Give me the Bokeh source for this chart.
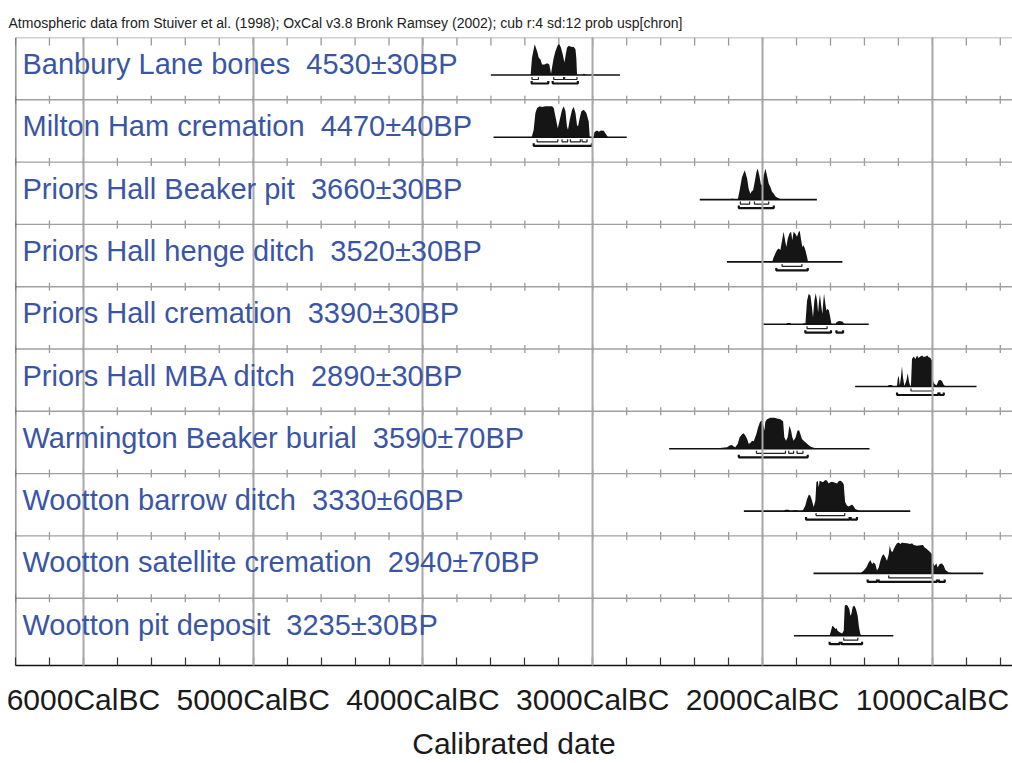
from bokeh.plotting import figure
from bokeh.models import Range1d, FixedTicker, Span, ColumnDataSource
from bokeh.core.properties import value
from bokeh.embed import file_html
from bokeh.resources import INLINE

# ---------------- data ----------------
caption = ("Atmospheric data from Stuiver et al. (1998); OxCal v3.8 Bronk Ramsey (2002); "
           "cub r:4 sd:12 prob usp[chron]")
axis_title = "Calibrated date"
tick_years_bc = [6000, 5000, 4000, 3000, 2000, 1000]
tick_labels = ["6000CalBC", "5000CalBC", "4000CalBC", "3000CalBC", "2000CalBC", "1000CalBC"]

names = ["Banbury Lane bones", "Milton Ham cremation", "Priors Hall Beaker pit",
         "Priors Hall henge ditch", "Priors Hall cremation", "Priors Hall MBA ditch",
         "Warmington Beaker burial", "Wootton barrow ditch", "Wootton satellite cremation",
         "Wootton pit deposit"]
dates = ["4530±30BP", "4470±40BP", "3660±30BP", "3520±30BP", "3390±30BP", "2890±30BP",
         "3590±70BP", "3330±60BP", "2940±70BP", "3235±30BP"]
span_from_bc = [3600, 3585, 2370, 2210, 1995, 1455, 2550, 2110, 1700, 1815]
span_to_bc = [2840, 2800, 1680, 1530, 1375, 740, 1370, 1130, 700, 1230]

banbury_bc = [3372, 3366, 3358, 3342, 3328, 3318, 3308, 3299, 3285, 3269, 3256, 3246, 3240, 3230,
              3220, 3206, 3197, 3187, 3175, 3167, 3159, 3152, 3142, 3128, 3112, 3102, 3097, 3093,
              3088, 3060, 3055, 3045, 3040]
banbury_p = [0, 0.02, 0.56, 0.99, 0.77, 0.56, 0.5, 0.34, 0.34, 0.38, 0.34, 0.04, 0.24, 0.56,
             0.77, 0.97, 0.99, 0.88, 0.61, 0.4, 0.67, 0.88, 0.94, 0.91, 0.9, 0.83, 0.56, 0.04,
             0, 0, 0.04, 0.03, 0]
banbury_r68 = [(3358, 3320), (3230, 3172), (3166, 3093)]
banbury_r95 = [(3360, 3262), (3236, 3088)]

milton_bc = [3360, 3348, 3338, 3328, 3312, 3299, 3279, 3259, 3240, 3230, 3220, 3206, 3195, 3181,
             3171, 3161, 3152, 3146, 3136, 3122, 3112, 3102, 3093, 3087, 3077, 3067, 3053, 3038,
             3024, 3018, 3008, 2995, 2990, 2975, 2965, 2951, 2936, 2920, 2910]
milton_p = [0, 0.24, 0.78, 0.945, 1.0, 0.98, 1.0, 1.0, 1.0, 0.945, 0.67, 0.29, 0.56, 0.89, 1.0,
            0.84, 0.35, 0.24, 0.56, 0.89, 0.98, 0.78, 0.40, 0.35, 0.62, 0.84, 0.89, 0.78, 0.51,
            0.02, 0, 0, 0.17, 0.22, 0.18, 0.22, 0.21, 0.08, 0]
milton_r68 = [(3328, 3206), (3181, 3148), (3132, 3073), (3063, 3034)]
milton_r95 = [(3348, 3005)]

beaker_bc = [2192, 2185, 2172, 2165, 2146, 2135, 2121, 2105, 2091, 2082, 2072, 2066, 2056, 2048,
             2036, 2029, 2019, 2009, 2001, 1993, 1983, 1974, 1964, 1954, 1944, 1934, 1925, 1915,
             1895, 1885]
beaker_p = [0, 0.03, 0.03, 0, 0, 0.30, 0.73, 0.95, 0.68, 0.35, 0.19, 0.25, 0.30, 0.52, 0.89, 1.0,
            0.78, 0.46, 0.52, 0.78, 1.0, 0.78, 0.52, 0.41, 0.25, 0.19, 0.11, 0.065, 0.02, 0]
beaker_r68 = [(2131, 2076), (2048, 1964)]
beaker_r95 = [(2140, 1934)]

henge_bc = [1944, 1934, 1915, 1905, 1895, 1885, 1876, 1866, 1860, 1852, 1842, 1832, 1825, 1817,
            1807, 1797, 1787, 1781, 1774, 1766, 1758, 1748, 1738, 1732, 1705, 1700, 1695]
henge_p = [0, 0.16, 0.38, 0.43, 0.38, 0.70, 0.97, 0.65, 0.48, 0.75, 0.91, 0.97, 0.70, 0.97, 0.91,
           0.81, 0.97, 1.0, 0.75, 0.48, 0.54, 0.38, 0.16, 0, 0, 0.03, 0]
henge_r68 = [(1885, 1768)]
henge_r95 = [(1919, 1734)]

crem_bc = [1860, 1856, 1846, 1836, 1832, 1762, 1758, 1750, 1748, 1738, 1728, 1718, 1709, 1703,
           1695, 1687, 1679, 1673, 1667, 1662, 1656, 1648, 1642, 1638, 1630, 1624, 1620, 1610,
           1601, 1595, 1591, 1570, 1565, 1550, 1530, 1522, 1515]
crem_p = [0, 0.04, 0.04, 0.04, 0, 0, 0.03, 0.03, 0, 0.76, 0.98, 0.92, 0.54, 0.22, 0.76, 1.0, 0.76,
          0.38, 0.76, 0.96, 0.65, 0.33, 0.76, 0.98, 0.65, 0.43, 0.49, 0.46, 0.22, 0.02, 0, 0,
          0.065, 0.1, 0.09, 0.03, 0]
crem_r68 = [(1738, 1620)]
crem_r95 = [(1748, 1597), (1565, 1526)]

mba_bc = [1265, 1257, 1238, 1230, 1212, 1208, 1204, 1198, 1192, 1185, 1179, 1173, 1165, 1153,
          1145, 1137, 1130, 1126, 1120, 1110, 1100, 1090, 1081, 1071, 1061, 1051, 1041, 1031,
          1022, 1012, 1002, 996, 988, 976, 963, 953, 943, 933, 923]
mba_p = [0, 0.05, 0.05, 0, 0, 0.03, 0.25, 0.35, 0.03, 0.3, 0.65, 0.3, 0.02, 0.19, 0.43, 0.14,
         0.02, 0.02, 0.89, 0.97, 0.89, 1.0, 0.92, 0.97, 1.0, 0.95, 0.97, 1.0, 0.95, 0.92, 0.84,
         0.19, 0.09, 0.03, 0.19, 0.22, 0.17, 0.06, 0]
mba_r68 = [(1126, 996)]
mba_r95 = [(1208, 965), (958, 933)]

warm_bc = [2278, 2258, 2239, 2209, 2194, 2180, 2170, 2160, 2146, 2135, 2121, 2111, 2101, 2091,
           2082, 2072, 2062, 2052, 2037, 2027, 2017, 2007, 1997, 1989, 1984, 1974, 1954, 1931,
           1915, 1895, 1879, 1872, 1862, 1852, 1842, 1832, 1825, 1817, 1805, 1795, 1785, 1777,
           1768, 1758, 1748, 1738, 1719, 1699, 1679, 1660]
warm_p = [0, 0.02, 0.03, 0.05, 0.105, 0.126, 0.074, 0.05, 0.16, 0.37, 0.47, 0.505, 0.42, 0.32,
          0.16, 0.19, 0.26, 0.24, 0.47, 0.68, 0.84, 0.92, 0.79, 0.58, 0.87, 0.95, 1.0, 1.0, 0.98,
          0.95, 0.89, 0.37, 0.26, 0.37, 0.74, 0.58, 0.37, 0.26, 0.37, 0.58, 0.6, 0.47, 0.32,
          0.26, 0.21, 0.16, 0.074, 0.03, 0.01, 0]
warm_r68 = [(2036, 1865), (1846, 1817), (1797, 1762)]
warm_r95 = [(2140, 1734)]

barrow_bc = [1875, 1866, 1846, 1838, 1825, 1817, 1797, 1790, 1768, 1758, 1748, 1738, 1728, 1719,
             1709, 1699, 1689, 1683, 1675, 1669, 1664, 1656, 1644, 1636, 1628, 1620, 1611, 1601,
             1591, 1581, 1561, 1552, 1542, 1532, 1522, 1514, 1503, 1493, 1483, 1473, 1463, 1454,
             1444, 1434, 1424]
barrow_p = [0, 0.04, 0.04, 0, 0, 0.03, 0.03, 0, 0, 0.07, 0.18, 0.39, 0.53, 0.5, 0.34, 0.13, 0.34,
            0.93, 0.98, 0.77, 0.98, 0.96, 0.93, 0.98, 1.0, 0.98, 0.89, 0.93, 0.95, 0.93, 0.89,
            0.96, 0.98, 0.95, 0.87, 0.29, 0.18, 0.15, 0.18, 0.21, 0.15, 0.07, 0.04, 0.02, 0]
barrow_r68 = [(1685, 1516)]
barrow_r95 = [(1744, 1487), (1481, 1444)]

sat_bc = [1424, 1404, 1389, 1375, 1365, 1355, 1346, 1336, 1326, 1316, 1306, 1296, 1287, 1277,
          1267, 1257, 1251, 1243, 1236, 1228, 1218, 1208, 1198, 1188, 1179, 1169, 1149, 1130,
          1120, 1110, 1090, 1071, 1055, 1047, 1031, 1012, 1002, 996, 988, 976, 969, 957, 943,
          933, 923, 904, 884, 874]
sat_p = [0, 0.09, 0.19, 0.355, 0.43, 0.30, 0.355, 0.30, 0.09, 0.19, 0.41, 0.57, 0.62, 0.52, 0.41,
         0.62, 0.89, 0.73, 0.68, 0.78, 0.89, 0.97, 1.0, 0.95, 1.0, 0.98, 0.97, 0.95, 0.97, 0.92,
         0.89, 0.91, 0.92, 0.84, 0.78, 0.68, 0.62, 0.355, 0.25, 0.32, 0.19, 0.30, 0.32, 0.25,
         0.11, 0.03, 0.01, 0]
sat_r68 = [(1257, 1002)]
sat_r95 = [(1381, 1326), (1316, 973), (962, 927)]

pit_bc = [1685, 1679, 1669, 1663, 1605, 1597, 1589, 1581, 1571, 1565, 1558, 1546, 1532, 1522,
          1516, 1508, 1499, 1489, 1483, 1477, 1469, 1459, 1450, 1440, 1432, 1424, 1414]
pit_p = [0, 0.02, 0.02, 0, 0, 0.16, 0.32, 0.29, 0.215, 0.25, 0.16, 0.11, 0.075, 0.16, 0.97, 1.0,
         0.97, 0.86, 0.645, 0.70, 0.935, 0.97, 0.86, 0.645, 0.27, 0.05, 0]
pit_r68 = [(1522, 1439)]
pit_r95 = [(1605, 1546), (1535, 1414)]

curves = [(banbury_bc, banbury_p), (milton_bc, milton_p), (beaker_bc, beaker_p),
          (henge_bc, henge_p), (crem_bc, crem_p), (mba_bc, mba_p), (warm_bc, warm_p),
          (barrow_bc, barrow_p), (sat_bc, sat_p), (pit_bc, pit_p)]
ranges68 = [banbury_r68, milton_r68, beaker_r68, henge_r68, crem_r68, mba_r68, warm_r68,
            barrow_r68, sat_r68, pit_r68]
ranges95 = [banbury_r95, milton_r95, beaker_r95, henge_r95, crem_r95, mba_r95, warm_r95,
            barrow_r95, sat_r95, pit_r95]

# ---------------- layout constants (row units; one row = ROW px) ----------------
ROW = 62.3
X_START, X_END = -6400, -528
Y_BOTTOM = 628 / ROW
BASE = 37.5 / ROW
PEAK = 31.0 / ROW
OFF68 = 4.5 / ROW
OFF95 = 8.5 / ROW
TICK_UP = 2.5 / ROW
LABEL_Y = 26.5 / ROW
BLUE = "#3a55a6"
FONT = "Liberation Sans"

p = figure(width=1012, height=763, x_range=Range1d(X_START, X_END),
           y_range=Range1d(Y_BOTTOM, 0), output_backend="svg", toolbar_location=None,
           y_axis_location=None, min_border_left=15, min_border_right=0,
           min_border_top=37, min_border_bottom=98)
p.background_fill_color = "white"
p.border_fill_color = "white"
p.outline_line_color = None
p.ygrid.visible = False

# caption as title
p.title.text = caption
p.title.align = "left"
p.title.offset = -7
p.title.standoff = 13
p.title.text_font = FONT
p.title.text_font_size = "14px"
p.title.text_font_style = "normal"
p.title.text_color = "#222222"

major = [-y for y in tick_years_bc]
minor = list(range(X_START, X_END, 200))

# vertical grid lines at millennia (drawn above the distributions, as in OxCal)
p.xgrid.ticker = FixedTicker(ticks=major)
p.xgrid.grid_line_color = "#a8a8a8"
p.xgrid.grid_line_width = 2
p.xgrid.level = "guide"

ax = p.xaxis[0]
ax.ticker = FixedTicker(ticks=major, minor_ticks=minor)
ax.major_label_overrides = {t: lab for t, lab in zip(major, tick_labels)}
ax.axis_line_color = "#111111"
ax.axis_line_width = 1.5
ax.major_tick_in = 8
ax.major_tick_out = 0
ax.minor_tick_in = 8
ax.minor_tick_out = 0
ax.major_tick_line_color = "#333333"
ax.minor_tick_line_color = "#333333"
ax.major_tick_line_width = 1.2
ax.minor_tick_line_width = 1.2
ax.major_label_standoff = 17
ax.major_label_text_font = FONT
ax.major_label_text_font_size = "30px"
ax.major_label_text_color = "#1a1a1a"
ax.axis_label = axis_title
ax.axis_label_standoff = 8
ax.axis_label_text_font = FONT
ax.axis_label_text_font_size = "30px"
ax.axis_label_text_font_style = "normal"
ax.axis_label_text_color = "#1a1a1a"

# row separators and top border
for b in range(0, 10):
    p.add_layout(Span(location=b, dimension="width", line_color="#a0a0a0", line_width=1.4))
p.add_layout(Span(location=X_START, dimension="height", line_color="#333333", line_width=1.6))

# small ticks on separators (every 200 years)
tx0, ty0, ty1 = [], [], []
for b in range(0, 10):
    for t in minor:
        tx0.append(t)
        if b == 0:
            ty0.append(0)
            ty1.append(8 / ROW)
        else:
            ty0.append(b - 4 / ROW)
            ty1.append(b + 4 / ROW)
p.segment(x0=tx0, x1=tx0, y0=ty0, y1=ty1, line_color="#9a9a9a", line_width=1.3)

# distributions
for i, (bc, dens) in enumerate(curves):
    base = i + BASE
    xs = [-v for v in bc]
    p.varea(x=xs, y1=[base] * len(xs), y2=[base - d * PEAK for d in dens],
            fill_color="#151515")

# baselines of each distribution
p.segment(x0=[-v for v in span_from_bc], x1=[-v for v in span_to_bc],
          y0=[i + BASE for i in range(10)], y1=[i + BASE for i in range(10)],
          line_color="#111111", line_width=1.6)

# range brackets
def brackets(ranges_list, off):
    xs, ys = [], []
    for i, rr in enumerate(ranges_list):
        yb = i + BASE + off
        for a, b in rr:
            xs.append([-a, -a, -b, -b])
            ys.append([yb - TICK_UP, yb, yb, yb - TICK_UP])
    return xs, ys

x68, y68 = brackets(ranges68, OFF68)
p.multi_line(xs=x68, ys=y68, line_color="#222222", line_width=1.2)
x95, y95 = brackets(ranges95, OFF95)
p.multi_line(xs=x95, ys=y95, line_color="#111111", line_width=2.2)

# sample labels
lab_src = ColumnDataSource(dict(
    x=[X_START] * len(names),
    y=[i + LABEL_Y for i in range(len(names))],
    text=[n + "\u00a0 " + d for n, d in zip(names, dates)]))
tr = p.text(x="x", y="y", text="text", source=lab_src, x_offset=7,
            text_font=value(FONT), text_font_size="29px",
            text_color=BLUE, text_baseline="alphabetic", text_align="left")
tr.level = "annotation"

open("out.html", "w").write(file_html(p, INLINE))
